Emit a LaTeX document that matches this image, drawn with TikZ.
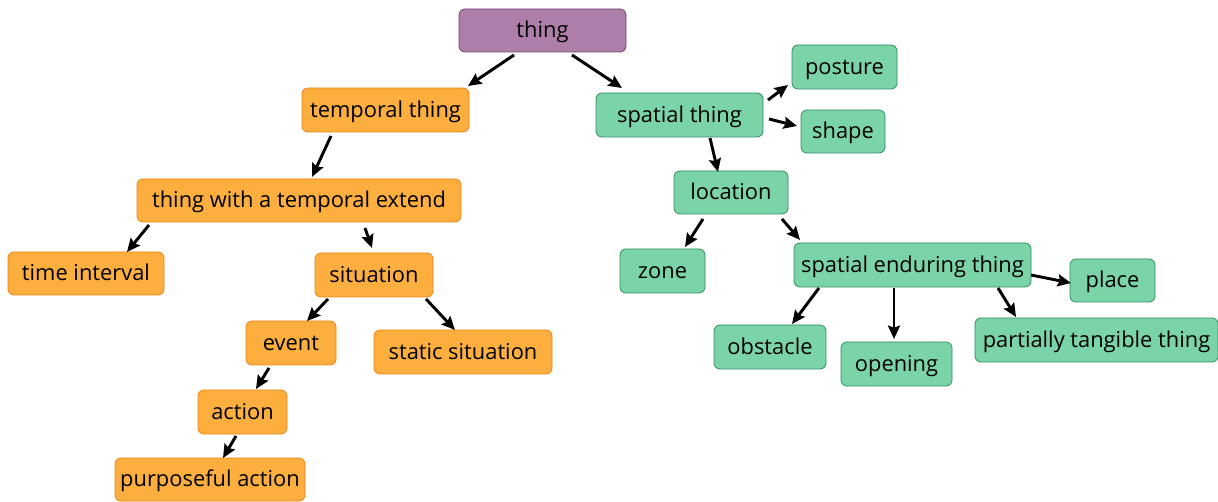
\documentclass[tikz,border=0pt]{standalone}
\usepackage{fontspec}
\setmainfont{Open Sans}
\usetikzlibrary{arrows.meta}
\definecolor{pfill}{RGB}{173,127,168}
\definecolor{pdraw}{RGB}{110,70,110}
\definecolor{ofill}{RGB}{252,175,62}
\definecolor{odraw}{RGB}{235,130,20}
\definecolor{gfill}{RGB}{123,212,168}
\definecolor{gdraw}{RGB}{45,140,95}
\tikzset{
  box/.style={rounded corners=4.5pt, line width=0.6pt, inner sep=0pt, font=\fontsize{16.4}{19}\selectfont, text=black, text height=13pt, text depth=2pt},
  pbox/.style={box, fill=pfill, draw=pdraw},
  obox/.style={box, fill=ofill, draw=odraw},
  gbox/.style={box, fill=gfill, draw=gdraw},
  arr/.style={-{Stealth[length=10pt,width=9pt,inset=1.5pt]}, line width=2.2pt, black},
}
\begin{document}
\begin{tikzpicture}[x=0.75pt,y=-0.75pt]
\useasboundingbox (0,0) rectangle (1218,502);
% nodes
\node[pbox, minimum width=125.25pt, minimum height=32.25pt] (thing) at (542.5,30.5) {thing};
\node[obox, minimum width=125.25pt, minimum height=33pt] (temporal) at (385.5,110) {temporal thing};
\node[gbox, minimum width=125.25pt, minimum height=33pt] (spatial) at (679.5,115) {spatial thing};
\node[gbox, minimum width=78.75pt, minimum height=33pt] (posture) at (844.5,67) {posture};
\node[gbox, minimum width=63pt, minimum height=32.25pt] (shape) at (843,131.5) {shape};
\node[obox, minimum width=243pt, minimum height=32.25pt] (twte) at (299,200.5) {thing with a temporal extend};
\node[gbox, minimum width=85.5pt, minimum height=32.25pt] (location) at (731,192.5) {location};
\node[obox, minimum width=117pt, minimum height=32.25pt] (time) at (86,273.5) {time interval};
\node[obox, minimum width=88.5pt, minimum height=33pt] (situation) at (374,275) {situation};
\node[gbox, minimum width=63.75pt, minimum height=33pt] (zone) at (662.5,271) {zone};
\node[gbox, minimum width=177.75pt, minimum height=33pt] (set) at (912.5,265) {spatial enduring thing};
\node[gbox, minimum width=63.75pt, minimum height=32.25pt] (place) at (1112.5,280.5) {place};
\node[obox, minimum width=67.5pt, minimum height=33pt] (event) at (291,343) {event};
\node[obox, minimum width=133.5pt, minimum height=33pt] (static) at (463,352) {static situation};
\node[gbox, minimum width=84pt, minimum height=33pt] (obstacle) at (770,347) {obstacle};
\node[gbox, minimum width=83.25pt, minimum height=33pt] (opening) at (896.5,364) {opening};
\node[gbox, minimum width=182.25pt, minimum height=33pt] (partial) at (1096.5,340) {partially tangible thing};
\node[obox, minimum width=66.75pt, minimum height=33pt] (action) at (242.5,412) {action};
\node[obox, minimum width=142.5pt, minimum height=32.25pt] (purpose) at (210,479.5) {purposeful action};
% arrows
\draw[arr] ([shift={(-28.5,24.5)}]thing.center) -- ([shift={(82.5,-24)}]temporal.center);
\draw[arr] ([shift={(29.5,24.5)}]thing.center) -- ([shift={(-57.5,-27)}]spatial.center);
\draw[arr] ([shift={(-54.5,26)}]temporal.center) -- ([shift={(13,-23.5)}]twte.center);
\draw[arr] ([shift={(88.5,-15)}]spatial.center) -- ([shift={(-56.5,18)}]posture.center);
\draw[arr] ([shift={(89.5,4)}]spatial.center) -- ([shift={(-46,-5.5)}]shape.center);
\draw[arr] ([shift={(30.5,23)}]spatial.center) -- ([shift={(-13,-20.5)}]location.center);
\draw[arr] ([shift={(-150,24.5)}]twte.center) -- ([shift={(41,-21.5)}]time.center);
\draw[arr] ([shift={(66,27.5)}]twte.center) -- ([shift={(-2,-27)}]situation.center);
\draw[arr] ([shift={(-28,26.5)}]location.center) -- ([shift={(22.5,-24)}]zone.center);
\draw[arr] ([shift={(51,26.5)}]location.center) -- ([shift={(-112.5,-25)}]set.center);
\draw[arr] ([shift={(-46,24)}]situation.center) -- ([shift={(16,-22)}]event.center);
\draw[arr] ([shift={(52,24)}]situation.center) -- ([shift={(-8,-22)}]static.center);
\draw[arr] ([shift={(-22,25)}]event.center) -- ([shift={(13.5,-23)}]action.center);
\draw[arr] ([shift={(-6.5,24)}]action.center) -- ([shift={(13,-21.5)}]purpose.center);
\draw[arr] ([shift={(-93.5,23)}]set.center) -- ([shift={(22,-23)}]obstacle.center);
\draw[arr] ([shift={(-18.5,23)}]set.center) -- ([shift={(-2.5,-25)}]opening.center);
\draw[arr] ([shift={(85.5,23)}]set.center) -- ([shift={(-80.5,-23)}]partial.center);
\draw[arr] ([shift={(118.5,10)}]set.center) -- ([shift={(-41.5,2.5)}]place.center);
\end{tikzpicture}
\end{document}
